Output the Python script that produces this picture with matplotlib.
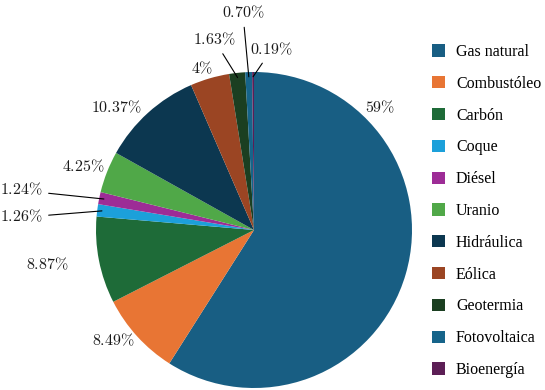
import matplotlib.pyplot as plt
import numpy as np

plt.rcParams['mathtext.fontset'] = 'cm'
plt.rcParams['font.family'] = 'serif'
plt.rcParams['font.serif'] = ['Liberation Serif', 'DejaVu Serif']

# Datos
fuentes = ['Gas natural', 'Combustóleo', 'Carbón', 'Coque', 'Diésel', 'Uranio',
           'Hidráulica', 'Eólica', 'Geotermia', 'Fotovoltaica', 'Bioenergía']
porcentajes = [59, 8.49, 8.87, 1.26, 1.24, 4.25, 10.37, 4, 1.63, 0.70, 0.19]
etiquetas = ['59%', '8.49%', '8.87%', '1.26%', '1.24%', '4.25%',
             '10.37%', '4%', '1.63%', '0.70%', '0.19%']
colores = ['#185e83', '#e87534', '#1e6b38', '#1ca0da', '#9d2c96', '#50a848',
           '#0c3750', '#9b4523', '#1b3f21', '#16648a', '#5c1e55']

# Posicion de cada etiqueta (unidades del radio) y si lleva linea guia
pos_etiq = [(0.80, 0.77), (-0.89, -0.70), (-1.31, -0.22), (-1.47, 0.08),
            (-1.47, 0.25), (-1.08, 0.40), (-0.87, 0.77), (-0.33, 1.02),
            (-0.25, 1.20), (-0.07, 1.37), (0.11, 1.14)]
con_linea = [False, False, False, True, True, False, False, False, True, True, True]

W, H = 545, 390
cx, cy, r = 254, 160, 158   # centro (desde abajo) y radio en pixeles

fig = plt.figure(figsize=(W / 100, H / 100), dpi=100)
ax = fig.add_axes([0, 0, 1, 1])

wedges, _ = ax.pie(porcentajes, colors=colores, startangle=90, counterclock=False,
                   radius=1, wedgeprops=dict(linewidth=0))

ax.set_xlim(-cx / r, (W - cx) / r)
ax.set_ylim(-cy / r, (H - cy) / r)
ax.set_aspect('auto')
ax.axis('off')

for w, txt, (tx, ty), linea in zip(wedges, etiquetas, pos_etiq, con_linea):
    lbl = r'$' + txt.replace('%', r'\%') + r'$'
    if linea:
        ang = np.deg2rad((w.theta1 + w.theta2) / 2)
        px, py = 0.97 * np.cos(ang), 0.97 * np.sin(ang)
        ax.annotate(lbl, xy=(px, py), xytext=(tx, ty), ha='center', va='center',
                    fontsize=11.5, color='#1a1a1a',
                    arrowprops=dict(arrowstyle='-', color='black', lw=0.8,
                                    shrinkA=2, shrinkB=0))
    else:
        ax.text(tx, ty, lbl, ha='center', va='center', fontsize=11.5, color='#1a1a1a')

fig.legend(wedges, fuentes, loc='upper left', bbox_to_anchor=(432 / W, 1 - 44 / H),
           frameon=False, prop={'size': 11.5},
           handlelength=0.8, handleheight=0.8, handletextpad=0.7,
           labelspacing=0.99, borderpad=0, borderaxespad=0)

plt.savefig('out.png', dpi=100)
